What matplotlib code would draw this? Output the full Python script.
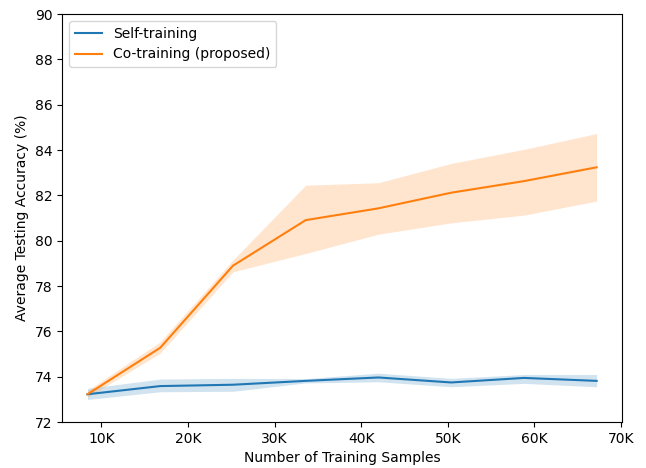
import matplotlib
matplotlib.use("Agg")
import matplotlib.pyplot as plt
from matplotlib.ticker import FuncFormatter

# Training-set sizes
samples = [8400, 16800, 25200, 33600, 42000, 50400, 58800, 67200]

# Self-training: mean and spread
self_mean = [73.23, 73.59, 73.65, 73.82, 73.97, 73.75, 73.95, 73.82]
self_low = [73.00, 73.34, 73.36, 73.73, 73.78, 73.56, 73.71, 73.56]
self_high = [73.49, 73.90, 73.93, 73.92, 74.16, 73.93, 74.10, 74.10]

# Co-training: mean and spread
co_mean = [73.23, 75.28, 78.90, 80.91, 81.43, 82.12, 82.63, 83.24]
co_low = [73.10, 75.04, 78.63, 79.44, 80.29, 80.79, 81.13, 81.75]
co_high = [73.40, 75.54, 79.15, 82.45, 82.56, 83.41, 84.03, 84.73]

fig, ax = plt.subplots(figsize=(6.46, 4.68), dpi=100)
fig.subplots_adjust(left=0.096, right=0.963, top=0.970, bottom=0.098)

ax.plot(samples, self_mean, color="C0", label="Self-training")
ax.fill_between(samples, self_low, self_high, color="C0", alpha=0.2, linewidth=0)
ax.plot(samples, co_mean, color="C1", label="Co-training (proposed)")
ax.fill_between(samples, co_low, co_high, color="C1", alpha=0.2, linewidth=0)

ax.set_ylim(72, 90)
ax.set_xticks([10000, 20000, 30000, 40000, 50000, 60000, 70000])
ax.xaxis.set_major_formatter(FuncFormatter(lambda v, p: f"{int(v/1000)}K"))
ax.set_xlabel("Number of Training Samples")
ax.set_ylabel("Average Testing Accuracy (%)")
ax.legend(loc="upper left")

fig.savefig("out.png", dpi=100)
